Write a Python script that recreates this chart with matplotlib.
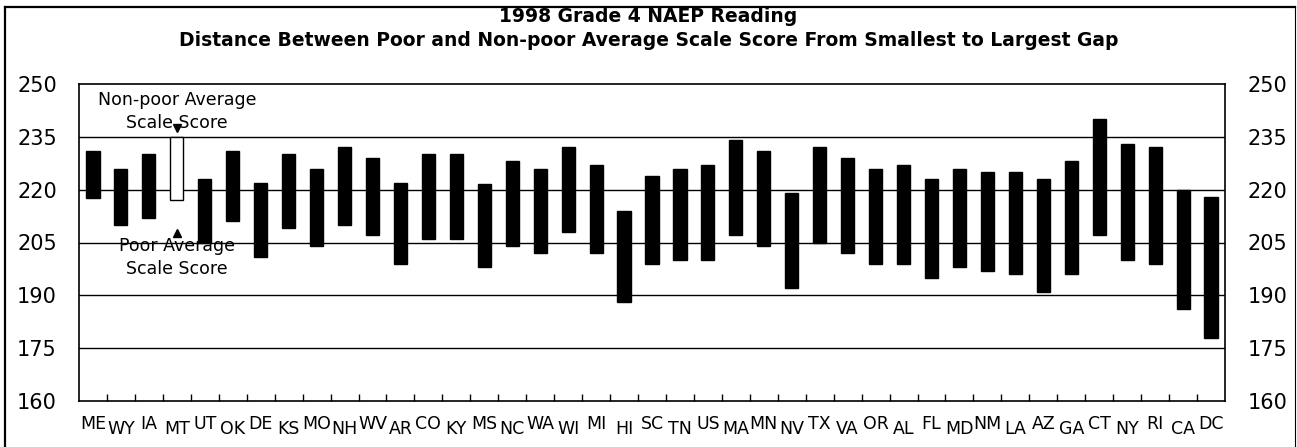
import matplotlib
matplotlib.use("Agg")
import matplotlib.pyplot as plt
from matplotlib.lines import Line2D
import numpy as np

plt.rcParams['font.family'] = ['Liberation Sans Narrow', 'DejaVu Sans']

states = ["ME", "WY", "IA", "MT", "UT", "OK", "DE", "KS", "MO", "NH", "WV", "AR", "CO",
          "KY", "MS", "NC", "WA", "WI", "MI", "HI", "SC", "TN", "US", "MA", "MN", "NV",
          "TX", "VA", "OR", "AL", "FL", "MD", "NM", "LA", "AZ", "GA", "CT", "NY", "RI",
          "CA", "DC"]
nonpoor = [231, 226, 230, 235, 223, 231, 222, 230, 226, 232, 229, 222, 230,
           230, 221.5, 228, 226, 232, 227, 214, 224, 226, 227, 234, 231, 219,
           232, 229, 226, 227, 223, 226, 225, 225, 223, 228, 240, 233, 232,
           220, 218]
poor = [217.5, 210, 212, 217, 205, 211, 201, 209, 204, 210, 207, 199, 206,
        206, 198, 204, 202, 208, 202, 188, 199, 200, 200, 207, 204, 192,
        205, 202, 199, 199, 195, 198, 197, 196, 191, 196, 207, 200, 199,
        186, 178]
yticks = [160, 175, 190, 205, 220, 235, 250]
highlight = "MT"

W, H = 1297, 447
fig = plt.figure(figsize=(W / 100, H / 100), dpi=100)
fig.patch.set_facecolor("white")

# outer frame
fx = lambda px: px / W
fy = lambda py: 1 - py / H
fig.add_artist(Line2D([fx(5), fx(5)], [fy(7), 0], color="black", lw=1.6, transform=fig.transFigure))
fig.add_artist(Line2D([fx(5), fx(1295)], [fy(7), fy(7)], color="black", lw=1.6, transform=fig.transFigure))
fig.add_artist(Line2D([fx(1295), fx(1295)], [fy(7), 0], color="black", lw=0.8, transform=fig.transFigure))

left, right, top, bottom = 79, 1225, 84, 401
ax = fig.add_axes([fx(left), fy(bottom), (right - left) / W, (bottom - top) / H])

x = np.arange(len(states))
heights = np.array(nonpoor) - np.array(poor)
colors = ["white" if s == highlight else "black" for s in states]
ax.bar(x, heights, bottom=poor, width=0.47, color=colors, edgecolor="black", linewidth=1.0, zorder=3)

ax.set_xlim(-0.5, len(states) - 0.5)
ax.set_ylim(160, 250)
for v in yticks[1:-1]:
    ax.axhline(v, color="black", lw=1.0, zorder=1)

ax.set_yticks(yticks)
ax.set_yticklabels([str(v) for v in yticks], fontsize=15)
ax.tick_params(axis="y", length=0, pad=16, labelright=True, right=False)

ax.set_xticks(x)
ax.set_xticklabels([])
ax.tick_params(axis="x", length=0)
for i, s in enumerate(states):
    off = 0 if i % 2 == 0 else -4
    ax.annotate(s, xy=(i, 160), xycoords="data", xytext=(0, -10 + off), textcoords="offset points",
                ha="center", va="top", fontsize=12.5)
ax.set_xticks(np.arange(len(states) - 1) + 0.5, minor=True)
ax.tick_params(axis="x", which="minor", direction="in", length=5, width=1, color="black")

for sp in ax.spines.values():
    sp.set_linewidth(1.2)

# annotation for the highlighted bar
mi = states.index(highlight)
ax.plot([mi], [237.6], marker="v", color="black", markersize=6, zorder=4, clip_on=False)
ax.plot([mi], [207.6], marker="^", color="black", markersize=6, zorder=4, clip_on=False)
ax.text(mi, 242.2, "Non-poor Average\nScale Score", ha="center", va="center", fontsize=12.5,
        linespacing=1.35, zorder=5)
ax.text(mi, 200.7, "Poor Average\nScale Score", ha="center", va="center", fontsize=12.5,
        linespacing=1.35, zorder=5)

fig.text(0.5, fy(17), "1998 Grade 4 NAEP Reading", ha="center", va="center",
         fontsize=13.5, fontweight="bold")
fig.text(0.5, fy(40), "Distance Between Poor and Non-poor Average Scale Score From Smallest to Largest Gap",
         ha="center", va="center", fontsize=13.5, fontweight="bold")

fig.savefig("out.png", dpi=100, facecolor="white")
